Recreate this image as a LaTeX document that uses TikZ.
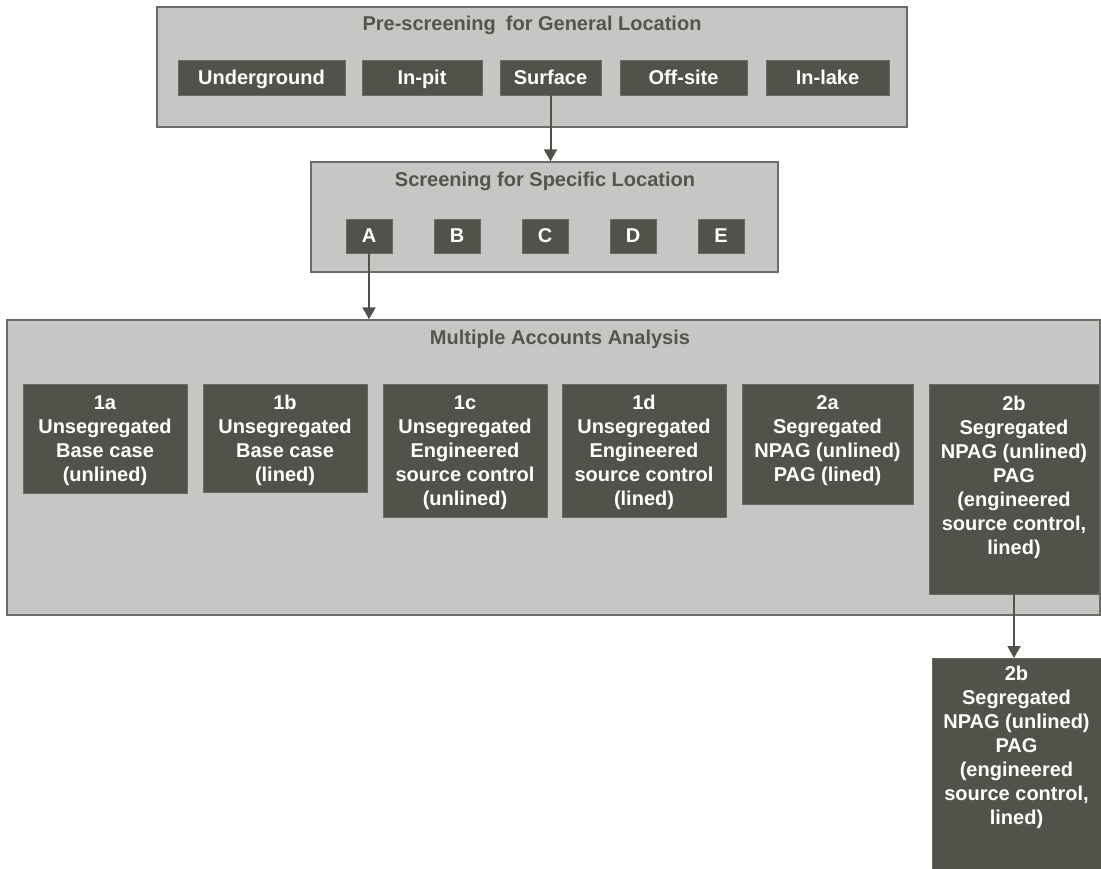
\documentclass[tikz,border=0pt]{standalone}
\usepackage{fontspec}
\setmainfont{Liberation Sans}
\usetikzlibrary{arrows.meta}

\definecolor{panelfill}{HTML}{C6C6C4}
\definecolor{paneledge}{HTML}{6C6C69}
\definecolor{boxfill}{HTML}{52524B}
\definecolor{boxedge}{HTML}{6A6A64}
\definecolor{titlegrey}{HTML}{55554E}

% box with text hung from the top: width, height, first-baseline drop, text
\newcommand{\hungtext}[4]{\parbox[c][#2pt][t]{#1pt}{\centering\rule{0pt}{#3pt}#4}}

\tikzset{
  panel/.style={draw=paneledge, fill=panelfill, line width=1.3pt, inner sep=0pt},
  dbox/.style={draw=boxedge, fill=boxfill, line width=0.8pt, inner sep=0pt,
    text=white, font=\fontsize{20}{24}\selectfont\bfseries, align=center},
  onerow/.style={dbox, text height=14pt, text depth=0pt},
  ttl/.style={text=titlegrey, font=\fontsize{20}{24}\selectfont\bfseries, anchor=base, inner sep=0pt},
  flow/.style={draw=boxfill, line width=2pt, -{Triangle[length=12pt,width=13pt]}}
}

\begin{document}
\begin{tikzpicture}[x=1pt,y=-1pt]
\useasboundingbox (0,0) rectangle (1101,869);

% ---- panels ----
\node[panel, minimum width=750pt, minimum height=120pt] (general) at (532,67) {};
\node[panel, minimum width=467pt, minimum height=110pt] (specific) at (544.5,217) {};
\node[panel, minimum width=1093pt, minimum height=295pt] (maa) at (553.5,467.5) {};

% ---- panel titles ----
\node[ttl] (tgeneral) at (532,31) {Pre-screening\hspace{0.5em}for General Location};
\node[ttl] (tspecific) at (545,187) {Screening for Specific Location};
\node[ttl] (tmaa) at (560,344) {Multiple Accounts Analysis};

% ---- general location options ----
\node[onerow, minimum width=167pt, minimum height=35pt] (under) at (261.5,77.5) {Underground};
\node[onerow, minimum width=120pt, minimum height=35pt] (inpit) at (422,77.5) {In-pit};
\node[onerow, minimum width=101pt, minimum height=35pt] (surface) at (550.5,77.5) {Surface};
\node[onerow, minimum width=127pt, minimum height=35pt] (offsite) at (683.5,77.5) {Off-site};
\node[onerow, minimum width=123pt, minimum height=35pt] (inlake) at (827.5,77.5) {In-lake};

% ---- specific locations ----
\foreach \lbl/\cx in {A/369,B/457,C/545,D/633,E/721}
  \node[onerow, minimum width=46pt, minimum height=34pt] (loc\lbl) at (\cx,236) {\lbl};

% ---- alternatives ----
\node[dbox, anchor=north] (a1a) at (105,384)
  {\hungtext{164}{109}{25}{1a\\Unsegregated\\Base case\\(unlined)}};
\node[dbox, anchor=north] (a1b) at (285,384)
  {\hungtext{164}{108}{25}{1b\\Unsegregated\\Base case\\(lined)}};
\node[dbox, anchor=north] (a1c) at (465,384)
  {\hungtext{164}{133}{25}{1c\\Unsegregated\\Engineered\\source control\\(unlined)}};
\node[dbox, anchor=north] (a1d) at (644,384)
  {\hungtext{164}{133}{25}{1d\\Unsegregated\\Engineered\\source control\\(lined)}};
\node[dbox, anchor=north] (a2a) at (827.5,384)
  {\hungtext{171}{120}{25}{2a\\Segregated\\NPAG (unlined)\\PAG (lined)}};
\node[dbox, anchor=north] (a2b) at (1014,384)
  {\hungtext{170}{210}{26}{2b\\Segregated\\NPAG (unlined)\\PAG\\(engineered\\source control,\\lined)}};

% ---- selected alternative ----
\node[dbox, anchor=north] (sel) at (1016.5,658)
  {\hungtext{169}{216}{22}{2b\\Segregated\\NPAG (unlined)\\PAG\\(engineered\\source control,\\lined)}};

% ---- connectors ----
\draw[flow] (surface.south) -- (surface.south |- specific.north);
\draw[flow] (locA.south) -- (locA.south |- maa.north);
\draw[flow] (a2b.south) -- (a2b.south |- sel.north);
\end{tikzpicture}
\end{document}
